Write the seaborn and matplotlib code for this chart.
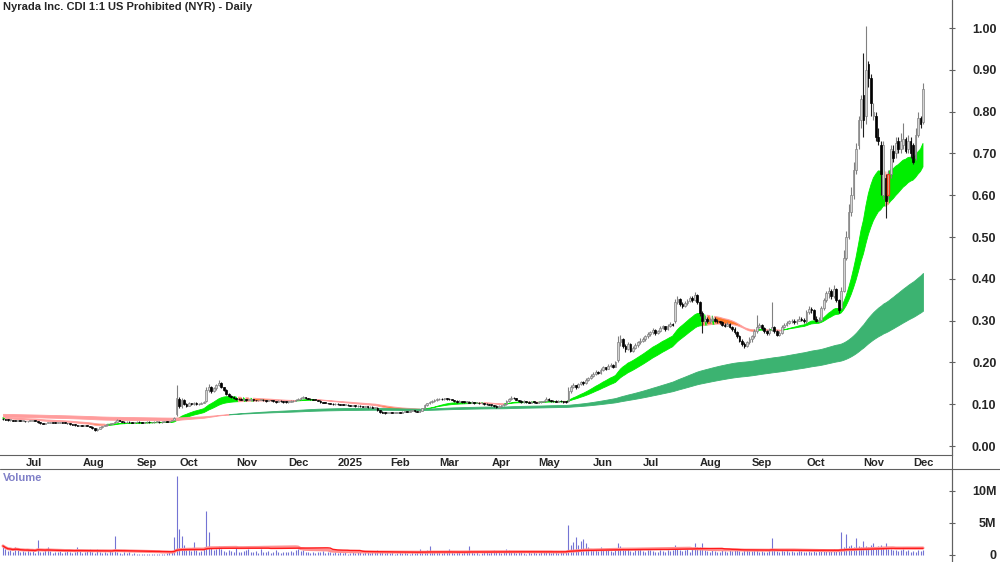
import numpy as np
import pandas as pd
import seaborn as sns
import matplotlib.pyplot as plt
from matplotlib.lines import Line2D

TITLE = "Nyrada Inc. CDI 1:1 US Prohibited (NYR) - Daily"

# ASX trading days (public holidays and the Sep 2024 trading halt removed)
CLOSED = ["2024-09-24", "2024-09-25", "2024-09-26", "2024-09-27",
          "2024-12-25", "2024-12-26", "2025-01-01", "2025-01-27",
          "2025-04-18", "2025-04-21", "2025-04-25", "2025-06-09"]
# candle drawn with a red outline on the source chart
MARKED = ["2025-11-17"]

# prices in thousandths of a dollar, one line per month (Jun 2024 .. Dec 2025)
opens = [
    65, 64, 63, 62, 63, 61, 60, 61, 60,
    60, 59, 60, 61, 62, 60, 57, 54, 53, 55, 56, 57, 56, 55, 56, 57, 56, 55, 54, 52, 51, 50, 49,
    49, 48, 49, 48, 46, 42, 38, 41, 45, 48, 50, 52, 53, 55, 58, 62, 60, 58, 57, 58, 57, 56,
    57, 58, 57, 56, 57, 58, 57, 57, 58, 58, 57, 58, 59, 58, 60, 63, 76,
    112, 95, 110, 100, 96, 102, 100, 104, 100, 101, 103, 108, 135, 142, 132, 138, 145, 150, 140, 135, 125, 120, 118,
    115, 113, 112, 111, 112, 110, 111, 112, 110, 109, 110, 111, 109, 108, 110, 109, 107, 106, 108, 107, 106,
    105, 106, 107, 108, 110, 112, 115, 116, 115, 113, 112, 111, 110, 108, 105, 104, 103, 102, 101, 100,
    101, 100, 99, 98, 99, 97, 96, 97, 95, 96, 95, 94, 95, 93, 94, 92, 92, 85, 81, 80, 79,
    80, 80, 79, 80, 81, 80, 82, 83, 82, 84, 85, 83, 82, 84, 90, 98, 102, 105, 108, 110,
    112, 113, 112, 114, 113, 112, 110, 108, 106, 107, 106, 105, 106, 104, 105, 103, 104, 102, 103, 101, 100,
    99, 98, 96, 94, 95, 97, 100, 108, 113, 116, 114, 110, 108, 106, 107, 105, 104, 106, 105,
    104, 105, 106, 108, 112, 110, 108, 107, 106, 108, 107, 106, 108, 132, 142, 145, 140, 148, 152, 150, 158, 162,
    168, 172, 178, 175, 182, 188, 185, 192, 195, 190, 205, 250, 255, 240, 232, 245, 228, 235, 242, 248,
    252, 255, 262, 268, 272, 278, 270, 274, 282, 286, 280, 288, 292, 298, 345, 352, 340, 335, 342, 348, 355, 350, 362,
    345, 318, 300, 305, 298, 302, 305, 300, 298, 296, 290, 288, 292, 285, 280, 272, 262, 252, 245, 240, 248,
    255, 262, 275, 285, 290, 282, 275, 270, 278, 285, 275, 265, 270, 285, 290, 295, 298, 300, 296, 300, 305, 302,
    298, 320, 328, 325, 305, 300, 302, 330, 350, 365, 370, 360, 375, 350, 330, 372, 450, 500, 560, 600, 660, 720, 780,
    840, 790, 915, 880, 790, 790, 740, 720, 600, 640, 600, 650, 705, 700, 730, 710, 720, 735, 710, 730,
    720, 690, 745, 785, 775,
]
highs = [
    66, 65, 64, 64, 63, 62, 62, 62, 61,
    61, 61, 62, 63, 62, 60, 58, 55, 56, 57, 58, 58, 57, 57, 58, 58, 57, 56, 55, 53, 52, 51, 50,
    50, 50, 50, 49, 47, 43, 42, 46, 49, 51, 53, 54, 56, 59, 64, 63, 61, 59, 59, 59, 58, 58,
    59, 59, 58, 58, 59, 59, 58, 59, 59, 59, 59, 60, 60, 61, 63, 70, 146,
    118, 115, 112, 102, 105, 104, 106, 105, 103, 105, 108, 140, 148, 143, 142, 148, 158, 152, 142, 136, 127, 122, 119,
    116, 115, 114, 113, 113, 112, 113, 113, 111, 111, 112, 112, 110, 111, 111, 110, 108, 109, 109, 108, 107,
    108, 109, 110, 112, 114, 117, 119, 118, 116, 114, 113, 112, 111, 109, 106, 105, 104, 103, 102, 103,
    102, 101, 100, 100, 100, 98, 98, 98, 97, 97, 96, 96, 96, 95, 95, 94, 93, 86, 83, 81, 82,
    81, 81, 81, 82, 82, 83, 84, 84, 85, 87, 86, 84, 85, 92, 100, 104, 107, 110, 112, 114,
    115, 115, 116, 116, 114, 113, 111, 109, 109, 108, 107, 108, 107, 107, 106, 106, 105, 105, 104, 103, 101,
    100, 99, 97, 97, 99, 102, 111, 116, 120, 118, 115, 111, 109, 109, 108, 107, 108, 107, 106,
    107, 108, 110, 117, 114, 111, 109, 109, 110, 109, 108, 108, 140, 147, 150, 146, 150, 156, 155, 162, 166, 172,
    176, 182, 180, 186, 192, 190, 196, 199, 197, 204, 262, 265, 258, 245, 250, 247, 240, 246, 252, 258,
    260, 266, 272, 276, 282, 280, 278, 286, 290, 288, 292, 296, 295, 352, 358, 354, 345, 348, 352, 360, 358, 368, 364,
    348, 322, 310, 308, 306, 310, 308, 304, 300, 298, 294, 296, 294, 288, 284, 276, 266, 256, 250, 252, 260,
    266, 280, 313, 294, 292, 285, 278, 282, 344, 288, 278, 275, 290, 295, 300, 302, 305, 303, 304, 310, 308, 306,
    325, 335, 332, 328, 310, 308, 335, 355, 372, 380, 375, 385, 378, 352, 380, 470, 515, 580, 620, 680, 725, 790, 840,
    940, 1005, 920, 890, 820, 800, 760, 730, 730, 650, 660, 720, 720, 740, 740, 750, 772, 740, 745, 740,
    725, 760, 800, 790, 868,
]
lows = [
    63, 62, 61, 61, 60, 59, 60, 59, 59,
    58, 58, 59, 60, 59, 56, 53, 52, 52, 54, 55, 55, 54, 54, 55, 55, 54, 53, 51, 50, 49, 48, 48,
    47, 47, 47, 45, 41, 36, 37, 40, 44, 47, 49, 51, 52, 54, 57, 59, 57, 56, 56, 56, 55, 55,
    56, 56, 55, 55, 56, 56, 56, 56, 57, 56, 56, 57, 57, 57, 59, 62, 72,
    90, 92, 97, 93, 95, 98, 99, 98, 98, 100, 102, 106, 130, 128, 130, 135, 143, 138, 132, 123, 118, 116, 113,
    111, 110, 109, 109, 108, 109, 110, 108, 107, 108, 109, 107, 106, 107, 107, 105, 104, 105, 105, 104, 103,
    104, 105, 106, 107, 109, 111, 114, 113, 112, 110, 110, 109, 107, 104, 102, 102, 101, 100, 99, 99,
    99, 98, 97, 97, 96, 95, 95, 94, 94, 94, 93, 93, 92, 92, 91, 91, 84, 79, 78, 77, 78,
    78, 78, 78, 79, 79, 79, 81, 81, 81, 83, 82, 81, 81, 83, 89, 96, 100, 103, 106, 108,
    110, 110, 111, 111, 110, 109, 106, 104, 105, 104, 103, 104, 102, 103, 101, 102, 100, 101, 99, 98, 97,
    96, 93, 90, 92, 94, 96, 99, 106, 111, 112, 109, 106, 104, 104, 103, 102, 103, 103, 102,
    103, 104, 105, 107, 108, 106, 105, 105, 105, 105, 104, 104, 106, 128, 138, 136, 138, 145, 146, 148, 155, 160,
    166, 170, 172, 173, 180, 183, 184, 190, 187, 188, 200, 240, 235, 225, 230, 225, 225, 232, 238, 244,
    248, 252, 258, 264, 268, 266, 268, 272, 280, 276, 278, 285, 286, 295, 340, 336, 330, 332, 338, 345, 345, 348, 340,
    312, 270, 296, 295, 295, 298, 297, 294, 292, 286, 284, 286, 282, 276, 268, 258, 248, 240, 234, 238, 244,
    250, 258, 270, 282, 278, 270, 266, 265, 274, 270, 262, 262, 268, 282, 286, 292, 294, 292, 292, 298, 298, 294,
    295, 315, 318, 302, 296, 296, 300, 325, 345, 355, 352, 355, 345, 318, 328, 368, 445, 495, 550, 590, 650, 710, 760,
    740, 770, 860, 790, 780, 730, 720, 600, 590, 545, 590, 640, 680, 690, 700, 700, 710, 700, 700, 690,
    675, 685, 740, 760, 770,
]
closes = [
    64, 63, 62, 63, 61, 60, 61, 60, 60,
    59, 60, 61, 62, 60, 57, 54, 53, 55, 56, 57, 56, 55, 56, 57, 56, 55, 54, 52, 51, 50, 49, 49,
    48, 49, 48, 46, 42, 38, 41, 45, 48, 50, 52, 53, 55, 58, 62, 60, 58, 57, 58, 57, 56, 57,
    58, 57, 56, 57, 58, 57, 57, 58, 58, 57, 58, 59, 58, 60, 62, 68, 115,
    95, 110, 100, 96, 102, 100, 104, 100, 101, 103, 106, 135, 142, 132, 138, 145, 150, 140, 135, 125, 120, 118, 115,
    113, 112, 111, 112, 110, 111, 112, 110, 109, 110, 111, 109, 108, 110, 109, 107, 106, 108, 107, 106, 105,
    106, 107, 108, 110, 112, 115, 116, 115, 113, 112, 111, 110, 108, 105, 104, 103, 102, 101, 100, 101,
    100, 99, 98, 99, 97, 96, 97, 95, 96, 95, 94, 95, 93, 94, 92, 93, 85, 81, 80, 79, 80,
    80, 79, 80, 81, 80, 82, 83, 82, 84, 85, 83, 82, 84, 90, 98, 102, 105, 108, 110, 112,
    113, 112, 114, 113, 112, 110, 108, 106, 107, 106, 105, 106, 104, 105, 103, 104, 102, 103, 101, 100, 99,
    98, 96, 94, 95, 97, 100, 108, 113, 116, 114, 110, 108, 106, 107, 105, 104, 106, 105, 104,
    105, 106, 108, 112, 110, 108, 107, 106, 108, 107, 106, 105, 132, 142, 145, 140, 148, 152, 150, 158, 162, 168,
    172, 178, 175, 182, 188, 185, 192, 195, 190, 200, 250, 255, 240, 232, 245, 228, 235, 242, 248, 252,
    255, 262, 268, 272, 278, 270, 274, 282, 286, 280, 288, 292, 290, 345, 352, 340, 335, 342, 348, 355, 350, 362, 345,
    318, 300, 305, 298, 302, 305, 300, 298, 296, 290, 288, 292, 285, 280, 272, 262, 252, 245, 240, 248, 255,
    262, 275, 285, 290, 282, 275, 270, 278, 285, 275, 265, 270, 285, 290, 295, 298, 300, 296, 300, 305, 302, 298,
    320, 328, 325, 305, 300, 302, 330, 350, 365, 370, 360, 375, 350, 325, 370, 450, 500, 560, 600, 660, 710, 780, 830,
    780, 900, 880, 820, 800, 740, 730, 650, 720, 585, 650, 710, 690, 725, 710, 730, 735, 705, 730, 700,
    680, 745, 785, 770, 855,
]
# volume in 100k shares
volumes = [
    14, 9, 6, 8, 5, 12, 7, 4, 6,
    5, 8, 4, 6, 3, 23, 5, 4, 7, 12, 6, 3, 5, 4, 6, 3, 4, 8, 5, 3, 4, 12, 6,
    3, 4, 6, 10, 5, 3, 10, 4, 3, 5, 3, 6, 4, 29, 5, 3, 2, 4, 3, 5, 2, 3,
    2, 1, 2, 1, 2, 1, 1, 2, 1, 2, 1, 2, 3, 4, 6, 28, 123,
    40, 30, 15, 8, 10, 6, 20, 7, 5, 6, 9, 68, 35, 12, 8, 10, 14, 9, 6, 5, 7, 6, 5,
    12, 5, 4, 6, 7, 9, 5, 4, 6, 3, 10, 4, 5, 6, 3, 4, 7, 5, 3, 4, 5,
    4, 6, 5, 8, 10, 6, 7, 4, 5, 3, 4, 3, 5, 4, 6, 3, 4, 5, 3, 4,
    3, 4, 3, 5, 2, 3, 4, 3, 5, 4, 3, 4, 6, 3, 5, 4, 8, 6, 4, 3, 5,
    3, 4, 2, 3, 5, 3, 4, 3, 2, 4, 3, 5, 10, 6, 5, 8, 14, 4, 6, 5,
    5, 3, 4, 6, 9, 4, 3, 5, 4, 3, 6, 4, 14, 5, 3, 4, 2, 3, 5, 4, 3,
    6, 8, 5, 4, 3, 5, 9, 7, 6, 4, 3, 5, 4, 3, 2, 4, 3, 5, 3,
    3, 4, 5, 6, 4, 3, 5, 4, 3, 4, 5, 6, 47, 15, 20, 28, 15, 22, 25, 18, 12, 10,
    8, 9, 6, 12, 7, 8, 10, 6, 5, 9, 18, 14, 8, 7, 10, 6, 5, 8, 7, 9,
    6, 5, 7, 8, 6, 5, 4, 7, 6, 5, 8, 6, 7, 15, 10, 8, 6, 7, 9, 5, 10, 18, 12,
    12, 18, 7, 6, 5, 8, 6, 5, 4, 7, 6, 5, 8, 6, 7, 9, 6, 5, 8, 7, 6,
    6, 8, 7, 5, 6, 4, 5, 7, 26, 9, 6, 5, 7, 6, 8, 5, 6, 4, 5, 7, 6, 5,
    5, 6, 4, 7, 5, 6, 9, 8, 7, 6, 8, 9, 7, 10, 35, 12, 32, 14, 16, 12, 26, 14, 12,
    22, 14, 12, 15, 18, 12, 14, 16, 13, 18, 10, 9, 8, 7, 6, 8, 9, 6, 7, 5,
    6, 5, 7, 6, 8,
]

# moving average groups (spans) and their levels on the first day
SHORT_SPANS = [20, 23, 26, 29, 32, 35]
SHORT_SEEDS = [0.066, 0.0665, 0.067, 0.0675, 0.068, 0.0685]
LONG_SPANS = [150, 170, 190, 210, 230, 250]
LONG_SEEDS = [0.0705, 0.072, 0.0735, 0.075, 0.076, 0.077]

PRICE_TICKS = [0.0, 0.1, 0.2, 0.3, 0.4, 0.5, 0.6, 0.7, 0.8, 0.9, 1.0]
VOL_TICKS = [0, 5, 10]
VOL_LABELS = ["0", "5M", "10M"]


def ema(values, span, seed):
    a = 2.0 / (span + 1)
    out = []
    e = seed
    for v in values:
        e = e + a * (v - e)
        out.append(e)
    return np.array(out)


days = pd.bdate_range("2024-06-18", "2025-12-05")
days = days[~days.isin(pd.to_datetime(CLOSED))]

df = pd.DataFrame({
    "date": days,
    "open": np.array(opens) / 1000,
    "high": np.array(highs) / 1000,
    "low": np.array(lows) / 1000,
    "close": np.array(closes) / 1000,
    "volume": np.array(volumes) / 10,
})
df["i"] = np.arange(len(df))

short = np.array([ema(df.close, s, z) for s, z in zip(SHORT_SPANS, SHORT_SEEDS)])
long_ = np.array([ema(df.close, s, z) for s, z in zip(LONG_SPANS, LONG_SEEDS)])
df["vol_ma"] = df.volume.rolling(63, min_periods=1).mean()
df["vol_ma2"] = df.volume.rolling(50, min_periods=1).mean()

sns.set_theme(style="white")
plt.rcParams["font.family"] = ["Liberation Sans Narrow", "Liberation Sans", "DejaVu Sans"]

fig = plt.figure(figsize=(10, 5.62), dpi=100)
ax = fig.add_axes([0, 1 - 455 / 562, 0.952, 455 / 562])
axv = fig.add_axes([0, 0, 0.952, 93 / 562])

x = df.i.values

# short group: green while the group is rising, orange while falling
s_mid = short.mean(0)
rising_s = np.diff(s_mid, prepend=s_mid[0]) >= 0
ax.fill_between(x, short.min(0), short.max(0), where=rising_s, interpolate=True,
                color="#00ee00", lw=0.6, zorder=1)
ax.fill_between(x, short.min(0), short.max(0), where=~rising_s, interpolate=True,
                facecolor="#ff7a2a", edgecolor="#ffa0a0", lw=0.8, zorder=1)
# long group: green when in bullish order, pink otherwise
bull_l = long_[0] >= long_[-1]
ax.fill_between(x, long_.min(0), long_.max(0), where=bull_l, interpolate=True,
                color="#3cb371", lw=0.6, zorder=1)
ax.fill_between(x, long_.min(0), long_.max(0), where=~bull_l, interpolate=True,
                color="#ff9c9c", lw=0.6, zorder=1)

# candles
up = (df.close >= df.open).values
marked = df.date.isin(pd.to_datetime(MARKED)).values
body_lo = np.minimum(df.open, df.close).values
body_h = np.maximum(np.abs(df.close - df.open).values, 0.0015)
wick_lo = np.minimum(df.low, body_lo)
wick_hi = np.maximum(df.high, body_lo + body_h)
ax.vlines(x[up], wick_lo[up], wick_hi[up], color="#808080", lw=0.8, zorder=2)
ax.vlines(x[~up], wick_lo[~up], wick_hi[~up], color="#202020", lw=0.8, zorder=2)
ax.bar(x[up], body_h[up], bottom=body_lo[up], width=0.7, color="#d4d4d4",
       edgecolor="#808080", lw=0.5, zorder=3)
ax.bar(x[~up], body_h[~up], bottom=body_lo[~up], width=0.7, color="black",
       edgecolor="black", lw=0.5, zorder=3)
ax.bar(x[marked], body_h[marked], bottom=body_lo[marked], width=0.7, color="#d4d4d4",
       edgecolor="#e8401a", lw=1.0, zorder=4)

# volume
axv.vlines(x, 0, df.volume, color="#7474d4", lw=0.8)
sns.lineplot(x=x, y=df.vol_ma2.values, ax=axv, color="#ff9090", lw=2.2)
sns.lineplot(x=x, y=df.vol_ma.values, ax=axv, color="#ff1a1a", lw=1.0)

xmin, xmax = -1.2, 382.7
ax.set_xlim(xmin, xmax)
axv.set_xlim(xmin, xmax)
ax.set_ylim(-0.0215, 1.067)
axv.set_ylim(-1.1, 13.4)

# month ticks
month_start = df.groupby(df.date.dt.to_period("M")).i.min()
month_start = month_start[month_start > 0]
labels = ["2025" if p.month == 1 else p.strftime("%b") for p in month_start.index]
ax.set_xticks(month_start.values)
ax.set_xticklabels(labels, fontsize=8, fontweight="bold", ha="left")
ax.tick_params(axis="x", direction="in", length=4, width=0.8, color="#606060", pad=2)
axv.set_xticks([])

for a, ticks, labs in [(ax, PRICE_TICKS, [f"{t:.2f}" for t in PRICE_TICKS]),
                       (axv, VOL_TICKS, VOL_LABELS)]:
    a.yaxis.tick_right()
    a.set_yticks(ticks)
    a.set_yticklabels(labs, fontsize=9, fontweight="bold", ha="right")
    a.tick_params(axis="y", direction="inout", length=4, width=0.8, color="#606060", pad=30)
    for s in ["left", "top"]:
        a.spines[s].set_visible(False)
    a.spines["right"].set_color("#606060")
    a.spines["right"].set_linewidth(0.8)
    a.set_xlabel("")
    a.set_ylabel("")
ax.spines["bottom"].set_color("#606060")
ax.spines["bottom"].set_linewidth(0.8)
axv.spines["bottom"].set_visible(False)

# frame lines between the panels
fig.add_artist(Line2D([0, 1], [1 - 469 / 562] * 2, color="#606060", lw=0.8))
fig.add_artist(Line2D([0.952, 0.952], [0, 1], color="#606060", lw=0.8))

fig.text(0.003, 1 - 2 / 562, TITLE, ha="left", va="top", fontsize=8, fontweight="bold")
axv.text(0.003, 0.96, "Volume", transform=axv.transAxes, ha="left", va="top",
         fontsize=8, fontweight="bold", color="#8080c8")

fig.savefig("out.png", dpi=100)
